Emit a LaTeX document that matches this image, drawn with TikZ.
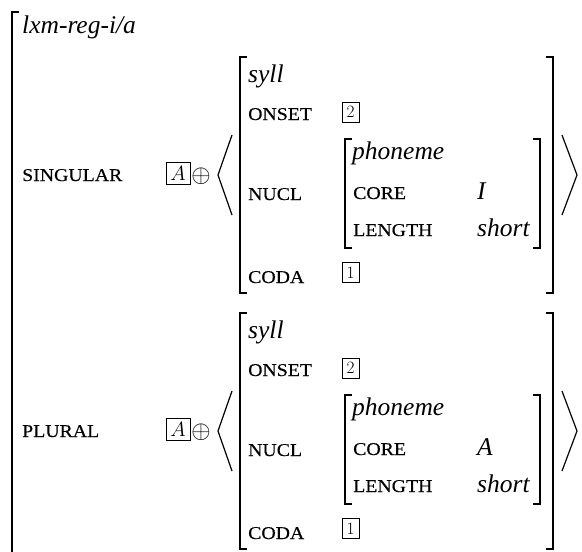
\documentclass[tikz,border=0pt]{standalone}
\usepackage{fontspec}
\setmainfont{Liberation Serif}
\newfontfamily\smcfont[FakeStretch=1.1, FakeBold=0.3]{Liberation Serif}
\usetikzlibrary{positioning}
\tikzset{
    typ/.style={inner sep=0pt, anchor=base west, font=\fontsize{25.5}{30}\selectfont\itshape},
    feat/.style={inner sep=0pt, anchor=base west, font=\fontsize{18}{20}\selectfont\smcfont},
    tagbox/.style={draw, line width=0.6pt, inner sep=0pt, minimum width=17pt, minimum height=20pt, font=\fontsize{16}{16}\selectfont},
    listtag/.style={draw, line width=0.6pt, inner sep=0pt, minimum width=24pt, minimum height=22pt, font=\fontsize{20}{20}\selectfont},
    brack/.style={line width=1.2pt},
}

\begin{document}
\begin{tikzpicture}[x=1pt, y=-1pt]
    \useasboundingbox (0,0) rectangle (582,552);
    % outer matrix
    \draw[brack] (19,12) -- (12,12) -- (12,552);
    \node[typ] (lxm) at (22,33) {lxm-reg-i/a};
    \foreach \blk/\attrname/\coreval/\dy in {sg/SINGULAR/I/0, pl/PLURAL/A/256} {
        \begin{scope}[shift={(0,\dy)}]
            \node[feat] (\blk-attr) at (22,181) {\attrname};
            \node[listtag] (\blk-list) at (178,173) {$A$};
            \node[inner sep=0pt, font=\fontsize{25}{25}\selectfont] (\blk-plus) at (201,176) {$\oplus$};
            \draw[brack] (232,135) -- (218,175) -- (232,215);
            \draw[brack] (562,135) -- (577,175) -- (562,215);
            % syll
            \draw[brack] (247,57) -- (240,57) -- (240,293) -- (247,293);
            \draw[brack] (546,57) -- (553,57) -- (553,293) -- (546,293);
            \node[typ] (\blk-syll) at (248,82) {syll};
            \node[feat] (\blk-onset) at (248,120) {ONSET};
            \node[tagbox] (\blk-two) at (350.5,112) {$2$};
            \node[feat] (\blk-nucl) at (248,200) {NUCL};
            \node[feat] (\blk-coda) at (248,283) {CODA};
            \node[tagbox] (\blk-one) at (350.5,272.5) {$1$};
            % phoneme
            \draw[brack] (352,139) -- (345,139) -- (345,248) -- (352,248);
            \draw[brack] (533,139) -- (540,139) -- (540,248) -- (533,248);
            \node[typ] (\blk-phon) at (352,159) {phoneme};
            \node[feat] (\blk-core) at (353,199) {CORE};
            \node[typ] (\blk-coreval) at (477,199) {\coreval};
            \node[feat] (\blk-len) at (353,236) {LENGTH};
            \node[typ] (\blk-short) at (477,236) {short};
        \end{scope}
    }
\end{tikzpicture}
\end{document}
